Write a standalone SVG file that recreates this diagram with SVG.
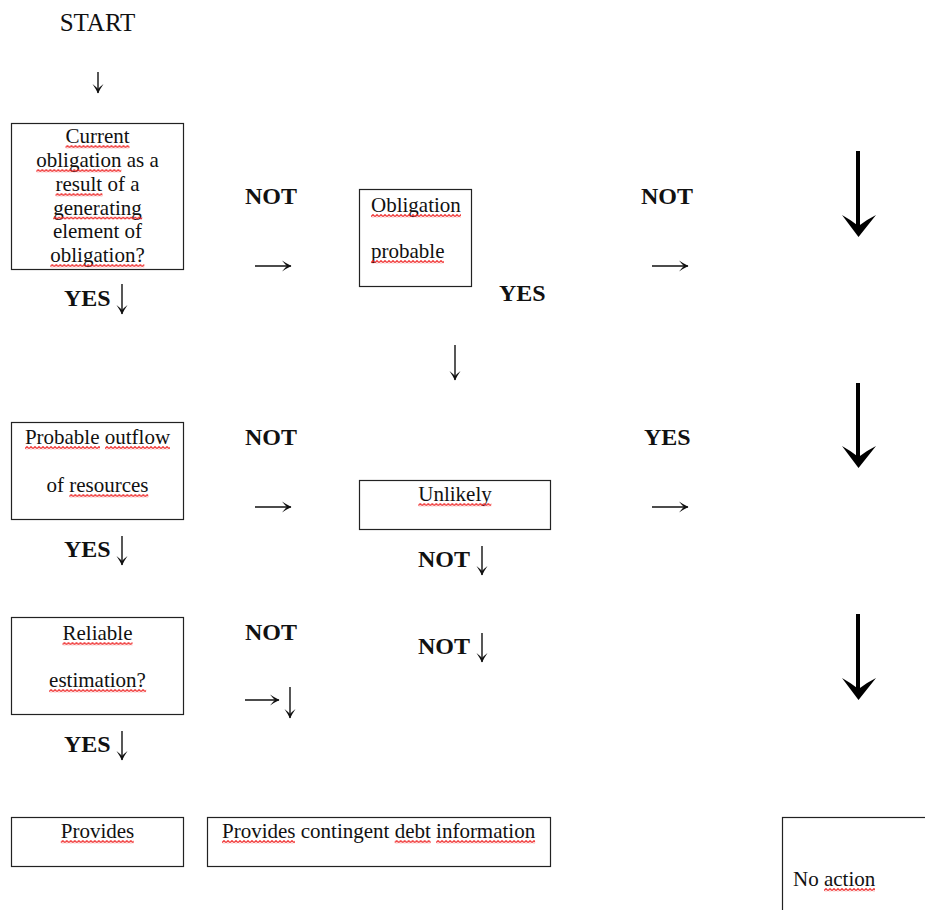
<svg xmlns="http://www.w3.org/2000/svg" width="925" height="910" viewBox="0 0 925 910">
<style>
text{font-family:"Liberation Serif","Times New Roman",serif;fill:#111}
.t{font-size:21px}
.b{font-size:24px;font-weight:bold}
.box{fill:#fff;stroke:#222;stroke-width:1.2}
.sq{fill:url(#zz)}
.thin{stroke:#111;stroke-width:1.4;fill:none;marker-end:url(#ah)}
.shaft{stroke:#000;stroke-width:4;fill:none}
.head{fill:#000}
</style>
<defs>
<pattern id="zz" patternUnits="userSpaceOnUse" width="4" height="3.5">
<polyline points="0,2.7 2,0.7 4,2.7" fill="none" stroke="#ee2222" stroke-width="1.2"/>
</pattern>
<marker id="ah" viewBox="0 0 10 12" refX="9.5" refY="6" markerWidth="10" markerHeight="12" markerUnits="userSpaceOnUse" orient="auto">
<path d="M10,6 Q5,3.6 0.5,0.5 Q3.5,4.3 5.5,6 Q3.5,7.7 0.5,11.5 Q5,8.4 10,6Z" fill="#111"/>
</marker>
</defs>
<rect width="925" height="910" fill="#fff"/>
<g id="start"><text x="97.5" y="31" text-anchor="middle" style="font-size:25px">START</text></g>
<g id="n1">
<rect class="box" x="11.5" y="123.5" width="172" height="146"/>
<text class="t" text-anchor="middle" x="97.5" y="143">Current</text>
<text class="t" text-anchor="middle" x="97.5" y="167">obligation as a</text>
<text class="t" text-anchor="middle" x="97.5" y="191">result of a</text>
<text class="t" text-anchor="middle" x="97.5" y="214.5">generating</text>
<text class="t" text-anchor="middle" x="97.5" y="238">element of</text>
<text class="t" text-anchor="middle" x="97.5" y="262">obligation?</text>
<rect class="sq" width="64" height="3.5" transform="translate(65.5,145)"/>
<rect class="sq" width="85" height="3.5" transform="translate(36.3,169)"/>
<rect class="sq" width="47" height="3.5" transform="translate(55.5,193)"/>
<rect class="sq" width="89" height="3.5" transform="translate(53.2,216.5)"/>
<rect class="sq" width="94" height="3.5" transform="translate(50.3,264)"/>
</g>
<g id="n2">
<rect class="box" x="359.5" y="189.5" width="112" height="97"/>
<text class="t" x="371" y="212">Obligation</text>
<text class="t" x="371" y="258">probable</text>
<rect class="sq" width="90" height="3.5" transform="translate(371,214)"/>
<rect class="sq" width="73" height="3.5" transform="translate(371,260)"/>
</g>
<g id="n3">
<rect class="box" x="11.5" y="422.5" width="172" height="97"/>
<text class="t" text-anchor="middle" x="97.5" y="444">Probable outflow</text>
<text class="t" text-anchor="middle" x="97.5" y="492">of resources</text>
<rect class="sq" width="75" height="3.5" transform="translate(25,446)"/>
<rect class="sq" width="65" height="3.5" transform="translate(105,446)"/>
<rect class="sq" width="79" height="3.5" transform="translate(69.3,494)"/>
</g>
<g id="n4">
<rect class="box" x="359.5" y="480.5" width="191" height="49"/>
<text class="t" text-anchor="middle" x="455" y="501">Unlikely</text>
<rect class="sq" width="73" height="3.5" transform="translate(418.3,503)"/>
</g>
<g id="n5">
<rect class="box" x="11.5" y="617.5" width="172" height="97"/>
<text class="t" text-anchor="middle" x="97.5" y="640">Reliable</text>
<text class="t" text-anchor="middle" x="97.5" y="687">estimation?</text>
<rect class="sq" width="70" height="3.5" transform="translate(62.5,642)"/>
<rect class="sq" width="97" height="3.5" transform="translate(49.1,689)"/>
</g>
<g id="n6">
<rect class="box" x="11.5" y="817.5" width="172" height="49"/>
<text class="t" text-anchor="middle" x="97.5" y="838">Provides</text>
<rect class="sq" width="73" height="3.5" transform="translate(60.8,840)"/>
</g>
<g id="n7">
<rect class="box" x="207.5" y="817.5" width="343" height="49"/>
<text class="t" x="222" y="838">Provides contingent debt information</text>
<rect class="sq" width="73" height="3.5" transform="translate(222,840)"/>
<rect class="sq" width="36" height="3.5" transform="translate(394.7,840)"/>
<rect class="sq" width="99" height="3.5" transform="translate(436.1,840)"/>
</g>
<g id="n8">
<rect class="box" x="782.5" y="817.5" width="150" height="100"/>
<text class="t" x="793" y="886">No action</text>
<rect class="sq" width="51" height="3.5" transform="translate(824,888)"/>
</g>
<g id="labels">
<text class="b" x="245" y="204">NOT</text>
<text class="b" x="641" y="204">NOT</text>
<text class="b" x="499" y="301">YES</text>
<text class="b" x="64" y="306">YES</text>
<text class="b" x="245" y="445">NOT</text>
<text class="b" x="644" y="445">YES</text>
<text class="b" x="64" y="557">YES</text>
<text class="b" x="418" y="567">NOT</text>
<text class="b" x="245" y="640">NOT</text>
<text class="b" x="418" y="654">NOT</text>
<text class="b" x="64" y="752">YES</text>
</g>
<g id="connectors">
<path class="thin" d="M98,72V93"/>
<path class="thin" d="M122,284V314"/>
<path class="thin" d="M255,266H291"/>
<path class="thin" d="M652,266H688"/>
<path class="thin" d="M455,345V380"/>
<path class="thin" d="M255,507H291"/>
<path class="thin" d="M652,507H688"/>
<path class="thin" d="M122,536V565"/>
<path class="thin" d="M482,546V575"/>
<path class="thin" d="M482,633V662"/>
<path class="thin" d="M245,700H279"/>
<path class="thin" d="M290,687V718"/>
<path class="thin" d="M122,731V760"/>
<path class="shaft" d="M858,151V228"/>
<path class="head" d="M858.5,237L842,215Q851,220 858.5,226Q866,220 876,215Z"/>
<path class="shaft" d="M858,383V459"/>
<path class="head" d="M858.5,468L842,446Q851,451 858.5,457Q866,451 876,446Z"/>
<path class="shaft" d="M858,614V691"/>
<path class="head" d="M858.5,700L842,678Q851,683 858.5,689Q866,683 876,678Z"/>
</g>
</svg>
